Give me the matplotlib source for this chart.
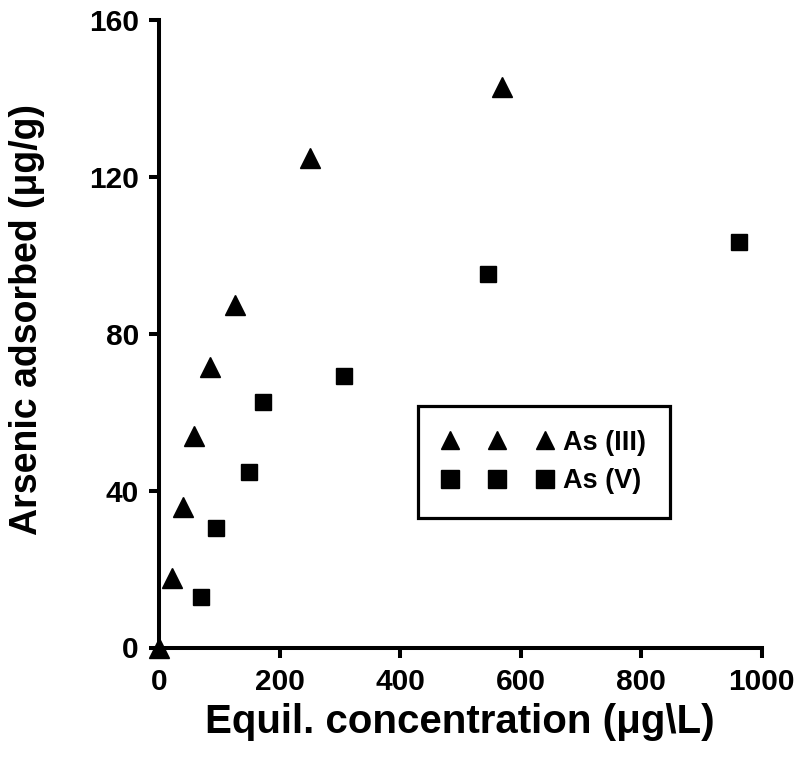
import matplotlib
matplotlib.use("Agg")
import matplotlib.pyplot as plt

# equilibrium concentration (ug/L) vs arsenic adsorbed (ug/g)
as3_conc = [0, 22, 40, 58, 84, 126, 250, 570]
as3_ads = [0, 17.6, 35.7, 54.0, 71.4, 87.3, 124.9, 142.8]
as5_conc = [70, 94, 150, 172, 307, 546, 962]
as5_ads = [12.9, 30.4, 44.8, 62.7, 69.1, 95.2, 103.4]

xticks = [0, 200, 400, 600, 800, 1000]
yticks = [0, 40, 80, 120, 160]

plt.rcParams["font.family"] = ["Liberation Sans", "DejaVu Sans"]
plt.rcParams["font.weight"] = "bold"

W, H = 797, 758
fig = plt.figure(figsize=(W / 100, H / 100), dpi=100)
ax = fig.add_axes([159 / W, 1 - 647.5 / H, (761.6 - 159) / W, (647.5 - 20) / H])

ax.plot(as3_conc, as3_ads, linestyle="none", marker="^", markersize=14,
        color="black", clip_on=False, label="As (III)")
ax.plot(as5_conc, as5_ads, linestyle="none", marker="s", markersize=11.5,
        color="black", clip_on=False, label="As (V)")

ax.set_xlim(0, 1000)
ax.set_ylim(0, 160)
ax.set_xticks(xticks)
ax.set_yticks(yticks)

for side in ["top", "right"]:
    ax.spines[side].set_visible(False)
for side in ["left", "bottom"]:
    ax.spines[side].set_linewidth(2.9)

ax.tick_params(direction="out", length=7.5, width=2.9, labelsize=21.5, pad=7)
for lab in ax.get_xticklabels() + ax.get_yticklabels():
    lab.set_fontweight("bold")

ax.set_xlabel("Equil. concentration (\u03bcg\\L)", fontsize=29, fontweight="bold", labelpad=5)
ax.set_ylabel("Arsenic adsorbed (\u03bcg/g)", fontsize=27, fontweight="bold")
ax.yaxis.set_label_coords(-0.19, 0.522)

leg = ax.legend(loc="upper left", bbox_to_anchor=(418 / W, 1 - 406 / H),
                bbox_transform=fig.transFigure, borderaxespad=0,
                numpoints=3, handlelength=4.1, handletextpad=0.38,
                borderpad=0.88, labelspacing=0.45, fancybox=False,
                frameon=True, prop={"size": 19.5, "weight": "bold"})
leg.get_frame().set_edgecolor("black")
leg.get_frame().set_linewidth(2.3)
leg.get_frame().set_alpha(1)
for h in leg.legend_handles:
    h.set_markersize(13)

fig.savefig("out.png", dpi=100)
